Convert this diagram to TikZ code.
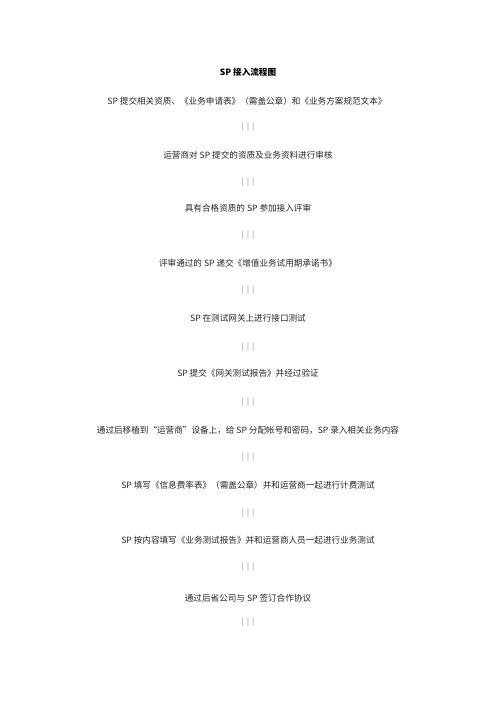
\documentclass[tikz,border=0pt]{standalone}
\usepackage{fontspec}
\newfontfamily\cjk{Noto Sans CJK SC}
\newfontfamily\barfont{Liberation Mono}
\begin{document}
\begin{tikzpicture}[x=1pt,y=-1pt,
  steptext/.style={font=\cjk\fontsize{8.6}{10}\selectfont, text=black!85, inner sep=0pt},
  titletext/.style={font=\cjk\bfseries\fontsize{8.6}{10}\selectfont, inner sep=0pt},
  bars/.style={font=\barfont\fontsize{9}{10}\selectfont, text=black!30, inner sep=0pt}]
\useasboundingbox (0,0) rectangle (496,702);
\fill[white] (0,0) rectangle (496,702);
\node[titletext] (title) at (248,72) {SP 接入流程图};
\node[steptext] (s1) at (247,101) {SP 提交相关资质、《业务申请表》（需盖公章）和《业务方案规范文本》};
\node[bars] (b1) at (248,127) {|||};
\node[steptext] (s2) at (248,155) {运营商对 SP 提交的资质及业务资料进行审核};
\node[bars] (b2) at (248,182) {|||};
\node[steptext] (s3) at (248,208) {具有合格资质的 SP 参加接入评审};
\node[bars] (b3) at (248,235) {|||};
\node[steptext] (s4) at (248,263) {评审通过的 SP 递交《增值业务试用期承诺书》};
\node[bars] (b4) at (248,290) {|||};
\node[steptext] (s5) at (248,318) {SP 在测试网关上进行接口测试};
\node[bars] (b5) at (248,347) {|||};
\node[steptext] (s6) at (248,373) {SP 提交《网关测试报告》并经过验证};
\node[bars] (b6) at (248,402) {|||};
\node[steptext] (s7) at (248,430) {通过后移植到“运营商”设备上，给 SP 分配帐号和密码，SP 录入相关业务内容};
\node[bars] (b7) at (248,457) {|||};
\node[steptext] (s8) at (248,485) {SP 填写《信息费率表》（需盖公章）并和运营商一起进行计费测试};
\node[bars] (b8) at (248,513) {|||};
\node[steptext] (s9) at (248,540) {SP 按内容填写《业务测试报告》并和运营商人员一起进行业务测试};
\node[bars] (b9) at (248,567) {|||};
\node[steptext] (s10) at (248,598) {通过后省公司与 SP 签订合作协议};
\node[bars] (b10) at (248,622) {|||};
\end{tikzpicture}
\end{document}
